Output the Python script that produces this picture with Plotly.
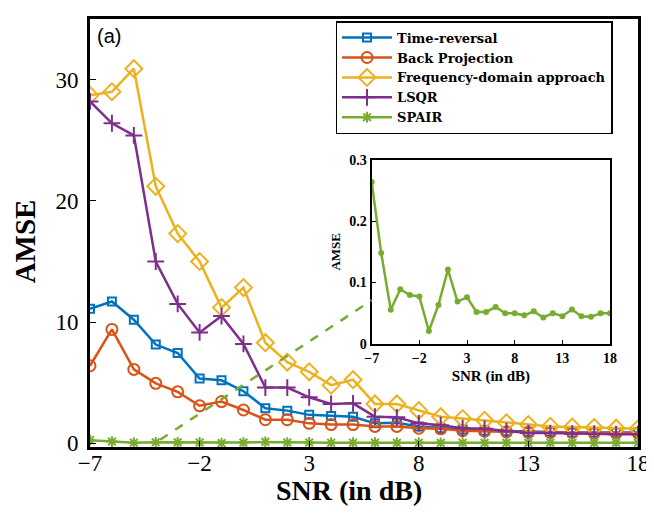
import plotly.graph_objects as go

snr = list(range(-7, 19))
tick_vals = [-7, -2, 3, 8, 13, 18]

time_reversal = [11.1, 11.7, 10.2, 8.15, 7.45, 5.35, 5.2, 4.3, 2.9, 2.7, 2.35, 2.25, 2.2,
                 1.65, 1.7, 1.4, 1.25, 1.15, 1.05, 1.0, 0.95, 0.95, 0.9, 0.9, 0.9, 0.9]
back_projection = [6.4, 9.4, 6.1, 4.95, 4.25, 3.1, 3.45, 2.75, 1.95, 1.95, 1.65, 1.55, 1.55,
                   1.4, 1.4, 1.25, 1.2, 1.05, 1.0, 0.95, 0.9, 0.9, 0.9, 0.85, 0.85, 0.85]
freq_domain = [28.7, 29.0, 30.9, 21.2, 17.3, 15.0, 11.2, 12.85, 8.3, 6.7, 5.9, 4.8, 5.25,
               3.25, 3.25, 2.7, 2.2, 2.05, 1.9, 1.7, 1.55, 1.4, 1.35, 1.3, 1.25, 1.2]
lsqr = [28.2, 26.4, 25.4, 15.0, 11.5, 9.15, 10.5, 8.2, 4.6, 4.6, 3.8, 3.25, 3.3,
        2.2, 2.15, 1.65, 1.5, 1.25, 1.2, 1.0, 0.85, 0.85, 0.8, 0.8, 0.75, 0.75]
spair = [0.264, 0.148, 0.0555, 0.089, 0.0795, 0.077, 0.021, 0.0635, 0.121, 0.069, 0.076,
         0.052, 0.052, 0.060, 0.050, 0.050, 0.0465, 0.053, 0.043, 0.050, 0.045, 0.056,
         0.045, 0.044, 0.050, 0.050]

BLUE = "#0072BD"
ORANGE = "#D95319"
YELLOW = "#EDB120"
PURPLE = "#7E2F8E"
GREEN = "#77AC30"

SERIF = "Liberation Serif"
LEG = "DejaVu Serif"

fig = go.Figure()

series = [
    ("Time-reversal", time_reversal, BLUE, "square-open", 8),
    ("Back Projection", back_projection, ORANGE, "circle-open", 11),
    ("Frequency-domain approach", freq_domain, YELLOW, "diamond-open", 13),
    ("LSQR", lsqr, PURPLE, "cross-thin-open", 12),
    ("SPAIR", spair, GREEN, "asterisk-open", 9),
]
for name, vals, col, sym, sz in series:
    fig.add_trace(go.Scatter(
        x=snr, y=vals, name=name, mode="lines+markers",
        line=dict(color=col, width=2.5),
        marker=dict(symbol=sym, size=sz, color=col, line=dict(color=col, width=2)),
        xaxis="x", yaxis="y",
    ))

# inset
fig.add_trace(go.Scatter(
    x=snr, y=spair, mode="lines+markers", showlegend=False,
    line=dict(color=GREEN, width=2.5),
    marker=dict(symbol="circle", size=6, color=GREEN),
    xaxis="x2", yaxis="y2",
))

axis_common = dict(showline=True, linecolor="black", mirror=True, showgrid=False,
                   zeroline=False, ticks="inside", tickcolor="black")

fig.update_layout(
    width=646, height=499,
    margin=dict(l=82, r=13, t=4, b=60),
    paper_bgcolor="white", plot_bgcolor="white",
    xaxis=dict(range=[-7, 18], tickvals=tick_vals, linewidth=3, ticklen=6,
               tickfont=dict(family=SERIF, size=23, color="black"),
               ticklabelstandoff=-7,
               domain=[0, 1], **axis_common),
    yaxis=dict(range=[-0.3, 35], tickvals=[0, 10, 20, 30], linewidth=3, ticklen=6,
               tickfont=dict(family=SERIF, size=23, color="black"),
               ticklabelstandoff=4,
               domain=[0, 1], **axis_common),
    xaxis2=dict(range=[-7, 18], tickvals=tick_vals, linewidth=2, ticklen=4,
                tickfont=dict(family=SERIF, size=14, color="black", weight="bold"),
                title=dict(text="<b>SNR (in dB)</b>", font=dict(family=SERIF, size=15, color="black"),
                           standoff=6),
                domain=[0.514, 0.949], anchor="y2", **axis_common),
    yaxis2=dict(range=[0, 0.3], tickvals=[0, 0.1, 0.2, 0.3], ticktext=["0", "0.1", "0.2", "0.3"],
                linewidth=2, ticklen=4,
                tickfont=dict(family=SERIF, size=14, color="black", weight="bold"),
                title=dict(text="<b>AMSE</b>", font=dict(family=SERIF, size=13, color="black"),
                           standoff=6),
                domain=[0.241, 0.671], anchor="x2", **axis_common),
    legend=dict(x=0.448, y=0.995, xanchor="left", yanchor="top",
                bgcolor="white", bordercolor="black", borderwidth=1.5,
                font=dict(family=LEG, size=13, color="black", weight="bold"),
                itemwidth=50, tracegroupgap=0),
    showlegend=True,
)

# main axis titles as annotations (positioned in plot-area fractions)
fig.add_annotation(text="<b>SNR (in dB)</b>", xref="paper", yref="paper",
                   x=0.472, y=-0.101, xanchor="center", yanchor="middle", showarrow=False,
                   font=dict(family=SERIF, size=28, color="black"))
fig.add_annotation(text="<b>AMSE</b>", xref="paper", yref="paper", textangle=-90,
                   x=-0.119, y=0.48, xanchor="center", yanchor="middle", showarrow=False,
                   font=dict(family=SERIF, size=29, color="black"))

fig.add_shape(type="line", xref="x", yref="y", x0=-3.8, y0=0.3, x1=5.85, y1=11.8,
              line=dict(color=GREEN, width=2.5, dash="dash"), layer="above")

fig.add_annotation(text="(a)", xref="paper", yref="paper", x=0.01, y=0.99,
                   xanchor="left", yanchor="top", showarrow=False,
                   font=dict(family="Liberation Sans", size=20, color="black"))

fig.write_html("out.html")
